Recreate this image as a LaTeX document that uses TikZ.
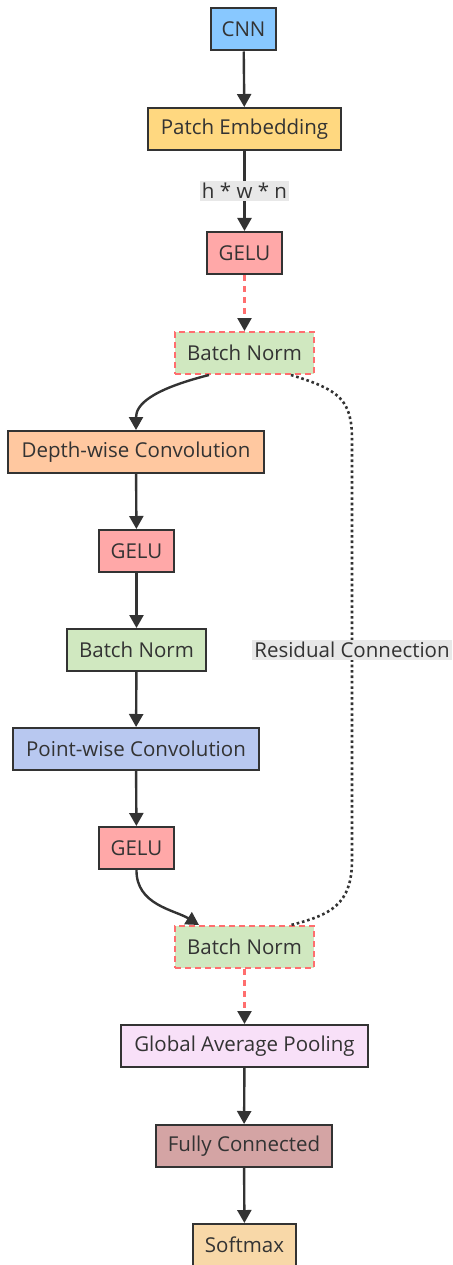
\documentclass[tikz,border=0pt]{standalone}
\usepackage{fontspec}
\setmainfont{Open Sans}
\usetikzlibrary{arrows.meta,calc}
\definecolor{ink}{HTML}{333333}
\definecolor{cnnc}{HTML}{88C8FF}
\definecolor{pec}{HTML}{FFD880}
\definecolor{geluc}{HTML}{FFA8A8}
\definecolor{bnc}{HTML}{D0E8C0}
\definecolor{dwc}{HTML}{FFC8A0}
\definecolor{pwc}{HTML}{B8C8F0}
\definecolor{gapc}{HTML}{F8E0F8}
\definecolor{fcc}{HTML}{D4A4A4}
\definecolor{smc}{HTML}{F8D8A8}
\definecolor{redd}{HTML}{FF6E6E}
\definecolor{lblc}{HTML}{E8E8E8}
\begin{document}
\begin{tikzpicture}[x=1pt,y=-1pt,
  box/.style={draw=ink,line width=2pt,minimum height=42pt,inner sep=0pt,font=\fontsize{20.5}{24}\selectfont,text=ink},
  dbox/.style={box,draw=redd,dash pattern=on 6pt off 4pt},
  arr/.style={draw=ink,line width=2.4pt,-{Triangle[length=13pt,width=14pt]}},
  darr/.style={draw=redd,line width=2.4pt,dash pattern=on 6pt off 5pt,-{Triangle[length=13pt,width=14pt,fill=ink,color=ink]}},
  lbl/.style={fill=lblc,inner sep=2pt,font=\fontsize{20.5}{24}\selectfont,text=ink}]
\useasboundingbox (0,0) rectangle (452,1265);
\node[box,fill=cnnc,minimum width=65pt] (cnn) at (243.5,29.5) {CNN};
\node[box,fill=pec,minimum width=193pt] (pe) at (244.5,129) {Patch Embedding};
\node[box,fill=geluc,minimum width=75pt] (g1) at (244.5,253) {GELU};
\node[dbox,fill=bnc,minimum width=139pt] (bn1) at (244.5,353) {Batch Norm};
\node[box,fill=dwc,minimum width=256pt] (dw) at (136,452) {Depth-wise Convolution};
\node[box,fill=geluc,minimum width=75pt] (g2) at (136.5,551) {GELU};
\node[box,fill=bnc,minimum width=139pt] (bn2) at (136.5,650) {Batch Norm};
\node[box,fill=pwc,minimum width=246pt] (pw) at (136,749) {Point-wise Convolution};
\node[box,fill=geluc,minimum width=75pt] (g3) at (136.5,848) {GELU};
\node[dbox,fill=bnc,minimum width=139pt] (bn3) at (244.5,947) {Batch Norm};
\node[box,fill=gapc,minimum width=247pt] (gap) at (244.5,1046) {Global Average Pooling};
\node[box,fill=fcc,minimum width=176pt] (fc) at (244,1146) {Fully Connected};
\node[box,fill=smc,minimum width=103pt] (sm) at (244.5,1245) {Softmax};

\draw[arr] (cnn) -- (pe);
\draw[arr] (pe) -- node[lbl] {h * w * n} (g1);
\draw[darr] (g1) -- (bn1);
\draw[arr] ($(bn1.south west)+(35,0)$) .. controls (150,390) and (136,405) .. (dw.north);
\draw[arr] (dw) -- (g2);
\draw[arr] (g2) -- (bn2);
\draw[arr] (bn2) -- (pw);
\draw[arr] (pw) -- (g3);
\draw[arr] (g3.south) .. controls (136,905) and (175,910) .. ($(bn3.north west)+(25,0)$);
\draw[darr] (bn3) -- (gap);
\draw[arr] (gap) -- (fc);
\draw[arr] (fc) -- (sm);

\coordinate (rtop) at (352,440);
\coordinate (rbot) at (352,860);
\draw[draw=ink,line width=2.6pt,dash pattern=on 2.6pt off 2.8pt]
  ($(bn1.south east)+(-24,0)$) .. controls (340,390) and (352,400) .. (rtop)
  -- node[lbl] {Residual Connection} (rbot)
  .. controls (352,905) and (330,915) .. ($(bn3.north east)+(-24,0)$);
\end{tikzpicture}
\end{document}
